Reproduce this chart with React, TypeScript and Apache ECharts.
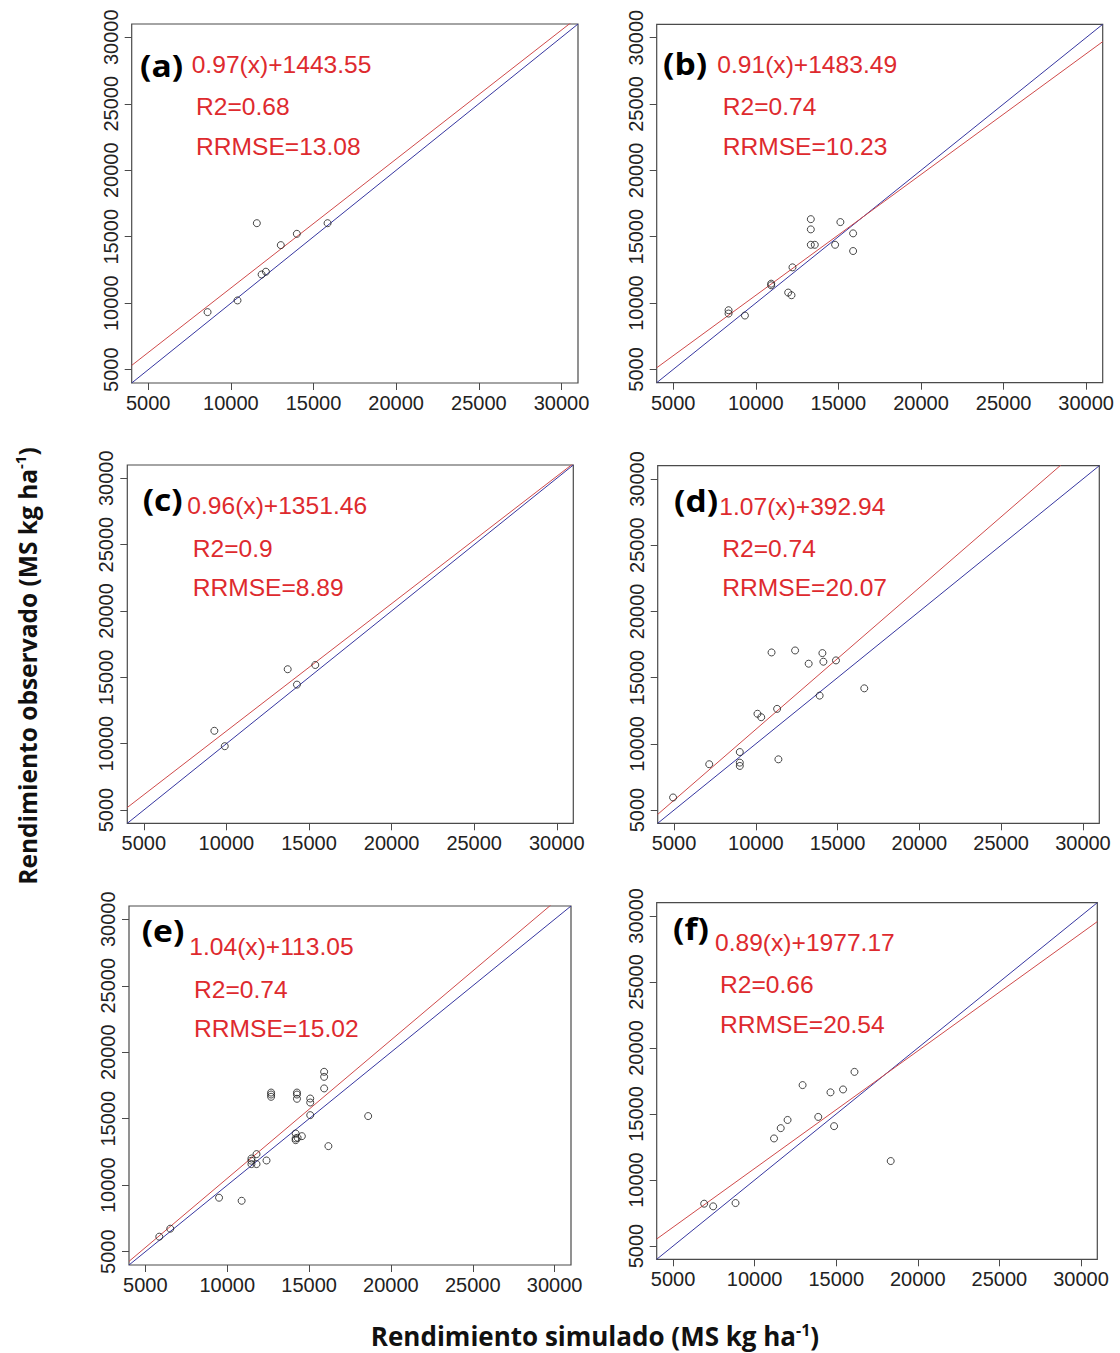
import React, { useEffect, useRef } from "react";
import * as echarts from "echarts";

const AXIS_MIN = 4000;
const AXIS_MAX = 31000;
const TICKS = [5000, 10000, 15000, 20000, 25000, 30000];

const panelTags = ["(a)", "(b)", "(c)", "(d)", "(e)", "(f)"];
const equations = [
  "0.97(x)+1443.55",
  "0.91(x)+1483.49",
  "0.96(x)+1351.46",
  "1.07(x)+392.94",
  "1.04(x)+113.05",
  "0.89(x)+1977.17",
];
const r2Labels = ["R2=0.68", "R2=0.74", "R2=0.9", "R2=0.74", "R2=0.74", "R2=0.66"];
const rrmseLabels = [
  "RRMSE=13.08",
  "RRMSE=10.23",
  "RRMSE=8.89",
  "RRMSE=20.07",
  "RRMSE=15.02",
  "RRMSE=20.54",
];
const slopes = [0.97, 0.91, 0.96, 1.07, 1.04, 0.89];
const intercepts = [1443.55, 1483.49, 1351.46, 392.94, 113.05, 1977.17];

// simulated (x) and observed (y) yields per panel
const simA = [8590, 10400, 11570, 11860, 12120, 13020, 13990, 15850];
const obsA = [9330, 10210, 16020, 12160, 12370, 14370, 15220, 16020];

const simB = [8350, 8350, 9340, 10930, 10930, 11960, 12160, 12220, 13330, 13330, 13330, 13570, 14800, 15120, 15890, 15890];
const obsB = [9460, 9210, 9060, 11460, 11340, 10790, 10590, 12690, 16320, 15550, 14390, 14390, 14390, 16100, 15250, 13920];

const simC = [9270, 9900, 13710, 14270, 15380];
const obsC = [10970, 9810, 15610, 14450, 15930];

const simD = [4940, 7150, 9020, 9020, 9020, 10100, 10330, 10960, 11300, 11380, 12400, 13230, 13900, 14070, 14130, 14900, 16630];
const obsD = [5950, 8460, 9380, 8580, 8330, 12270, 12010, 16900, 12640, 8830, 17050, 16050, 13640, 16850, 16200, 16300, 14190];

const simE = [5850, 6520, 9500, 10880, 11480, 11480, 11480, 11790, 11790, 12400, 12680, 12680, 12680, 14260, 14260, 14260, 14180, 14180, 14180, 14300, 14560, 15070, 15070, 15070, 15920, 15920, 15920, 16180, 18610];
const obsE = [6130, 6730, 9060, 8830, 12010, 11840, 11590, 12340, 11590, 11860, 16970, 16820, 16650, 16970, 16820, 16500, 13890, 13520, 13390, 13570, 13690, 16520, 16220, 15270, 18530, 18150, 17280, 12940, 15200];

const simF = [6910, 7460, 8830, 11190, 11600, 12020, 12940, 13900, 14650, 14870, 15420, 16120, 18340];
const obsF = [8210, 8010, 8260, 13150, 13930, 14550, 17190, 14780, 16640, 14080, 16860, 18190, 11440];

const simulated = [simA, simB, simC, simD, simE, simF];
const observed = [obsA, obsB, obsC, obsD, obsE, obsF];

const xTitle = "Rendimiento simulado (MS kg ha";
const yTitle = "Rendimiento observado (MS kg ha";

// layout (pixels)
const layout = [
  { grid: [131.7, 24, 446.3, 359], tag: [140, 65], eq: [191.7, 65], r2: [196, 107], rr: [196, 146.7] },
  { grid: [656.7, 24.3, 446, 358.4], tag: [663, 63], eq: [717.3, 65], r2: [722.7, 107], rr: [722.7, 146.7] },
  { grid: [127.3, 465, 446, 358.3], tag: [142.7, 499], eq: [187.3, 505.7], r2: [192.7, 548.3], rr: [192.7, 587.7] },
  { grid: [657.7, 465.7, 441.6, 357.6], tag: [674, 500], eq: [719.3, 506.7], r2: [722.3, 548.3], rr: [722.3, 587.7] },
  { grid: [129, 906, 442, 359], tag: [141.7, 930], eq: [189.3, 946.7], r2: [194, 990], rr: [194, 1028.3] },
  { grid: [656.7, 902.7, 440.6, 356.6], tag: [673, 928], eq: [715, 942.3], r2: [720, 985], rr: [720, 1025] },
];

const RED_TEXT = "#de2a2e";
const RED_LINE = "#cf4a4a";
const BLUE_LINE = "#3636a0";
const SANS = "'Liberation Sans', Arial, sans-serif";
const BOLD_FONT = "'Open Sans', Lato, sans-serif";

function buildOption() {
  const grids: any[] = [];
  const xAxes: any[] = [];
  const yAxes: any[] = [];
  const series: any[] = [];
  const graphics: any[] = [];

  layout.forEach((p, i) => {
    grids.push({
      left: p.grid[0],
      top: p.grid[1],
      width: p.grid[2],
      height: p.grid[3],
      show: true,
      borderColor: "#4a4a4a",
      borderWidth: 1.2,
      backgroundColor: "transparent",
      containLabel: false,
    });
    const common = {
      type: "value",
      gridIndex: i,
      min: AXIS_MIN,
      max: AXIS_MAX,
      axisLine: { show: false },
      splitLine: { show: false },
      axisTick: {
        show: true,
        length: 7,
        inside: false,
        customValues: TICKS,
        lineStyle: { color: "#4a4a4a", width: 1 },
      },
    };
    xAxes.push({
      ...common,
      axisLabel: {
        customValues: TICKS,
        formatter: (v: number) => String(v),
        fontSize: 20,
        fontFamily: SANS,
        color: "#222",
        margin: 10,
      },
    });
    yAxes.push({
      ...common,
      axisLabel: {
        customValues: TICKS,
        formatter: (v: number) => String(v),
        rotate: 90,
        fontSize: 20,
        fontFamily: SANS,
        color: "#222",
        margin: 11,
      },
    });

    const pts = simulated[i].map((x, k) => [x, observed[i][k]]);
    series.push({
      type: "line",
      xAxisIndex: i,
      yAxisIndex: i,
      data: [
        [AXIS_MIN, AXIS_MIN],
        [AXIS_MAX, AXIS_MAX],
      ],
      showSymbol: false,
      symbol: "none",
      lineStyle: { color: BLUE_LINE, width: 1 },
      clip: true,
      silent: true,
      z: 2,
    });
    series.push({
      type: "line",
      xAxisIndex: i,
      yAxisIndex: i,
      data: [
        [AXIS_MIN, slopes[i] * AXIS_MIN + intercepts[i]],
        [AXIS_MAX, slopes[i] * AXIS_MAX + intercepts[i]],
      ],
      showSymbol: false,
      symbol: "none",
      lineStyle: { color: RED_LINE, width: 1 },
      clip: true,
      silent: true,
      z: 3,
    });
    series.push({
      type: "scatter",
      xAxisIndex: i,
      yAxisIndex: i,
      data: pts,
      symbol: "circle",
      symbolSize: 7,
      itemStyle: { color: "rgba(0,0,0,0)", borderColor: "#1a1a1a", borderWidth: 1 },
      z: 4,
    });

    graphics.push({
      type: "text",
      x: p.tag[0],
      y: p.tag[1],
      scaleX: 1.12,
      style: {
        text: panelTags[i],
        fill: "#000",
        fontSize: 30,
        fontWeight: "bold",
        fontFamily: BOLD_FONT,
        align: "left",
        verticalAlign: "middle",
      },
      z: 10,
    });
    const redTexts = [
      [equations[i], p.eq],
      [r2Labels[i], p.r2],
      [rrmseLabels[i], p.rr],
    ];
    redTexts.forEach(([t, pos]: any) => {
      graphics.push({
        type: "text",
        x: pos[0],
        y: pos[1],
        scaleX: 1.07,
        style: {
          text: t,
          fill: RED_TEXT,
          fontSize: 23,
          fontFamily: SANS,
          align: "left",
          verticalAlign: "middle",
        },
        z: 10,
      });
    });
  });

  const richX = {
    b: { fontSize: 26, fontWeight: "bold", fontFamily: BOLD_FONT, fill: "#111", lineHeight: 28 },
    s: { fontSize: 16, fontWeight: "bold", fontFamily: BOLD_FONT, fill: "#111", lineHeight: 16, verticalAlign: "top" },
  };
  const richY = {
    b: { fontSize: 24.5, fontWeight: "bold", fontFamily: BOLD_FONT, fill: "#111", lineHeight: 30 },
    s: { fontSize: 15, fontWeight: "bold", fontFamily: BOLD_FONT, fill: "#111", lineHeight: 16, verticalAlign: "top" },
  };
  graphics.push({
    type: "text",
    x: 595,
    y: 1336,
    style: {
      text: `{b|${xTitle}}{s|-1}{b|)}`,
      rich: richX,
      align: "center",
      verticalAlign: "middle",
    },
    z: 10,
  });
  graphics.push({
    type: "text",
    x: 27,
    y: 666,
    rotation: Math.PI / 2,
    style: {
      text: `{b|${yTitle}}{s|-1}{b|)}`,
      rich: richY,
      align: "center",
      verticalAlign: "middle",
    },
    z: 10,
  });

  return {
    animation: false,
    backgroundColor: "#fff",
    grid: grids,
    xAxis: xAxes,
    yAxis: yAxes,
    series,
    graphic: graphics,
  };
}

export default function App() {
  const ref = useRef<HTMLDivElement>(null);
  useEffect(() => {
    if (!ref.current) return;
    const chart = echarts.init(ref.current, undefined, { renderer: "svg" });
    chart.setOption(buildOption() as any);
    return () => chart.dispose();
  }, []);
  return (
    <div
      ref={ref}
      style={{ position: "absolute", left: 0, top: 0, width: 1120, height: 1353, background: "#fff" }}
    />
  );
}
